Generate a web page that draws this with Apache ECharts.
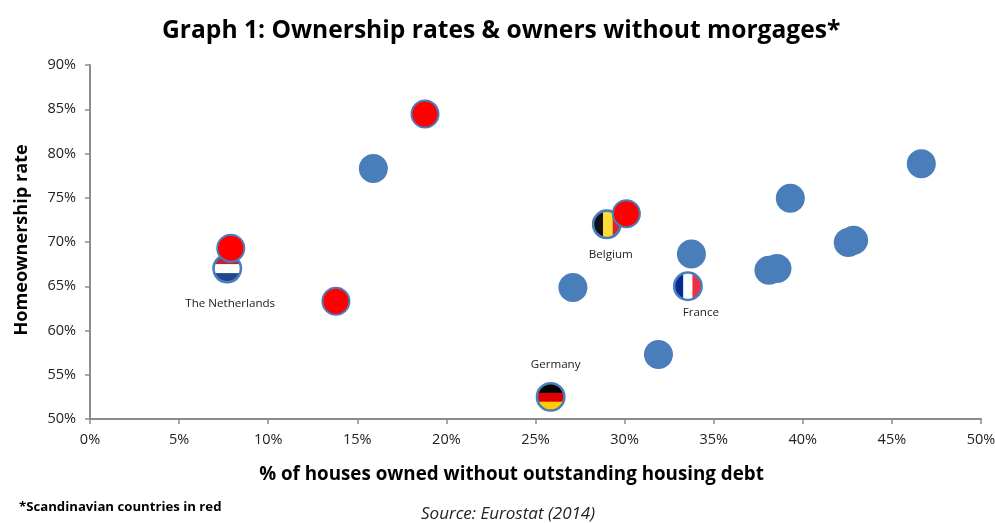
<!DOCTYPE html>
<html><head><meta charset="utf-8">
<style>html,body{margin:0;padding:0;background:#fff}#c{width:995px;height:523px}</style>
<script src="https://cdn.jsdelivr.net/npm/echarts@6/dist/echarts.min.js"></script>
</head><body><div id="c"></div>
<script>
const blueX = [15.9, 39.3, 46.65, 42.85, 42.55, 38.55, 38.1, 33.75, 27.1, 31.9];
const blueY = [78.3, 74.95, 78.85, 70.2, 69.95, 67.0, 66.8, 68.65, 64.85, 57.3];
const redX = [18.8, 7.9, 13.8, 30.1];
const redY = [84.45, 69.3, 63.3, 73.2];
const flagNames = ['The Netherlands', 'Belgium', 'France', 'Germany'];
const flagX = [7.7, 29.0, 33.55, 25.85];
const flagY = [67.0, 72.0, 65.0, 52.5];
const titleText = 'Graph 1: Ownership rates & owners without morgages*';
const xTitle = '% of houses owned without outstanding housing debt';
const yTitle = 'Homeownership rate';
const footnote = '*Scandinavian countries in red';
const sourceText = 'Source: Eurostat (2014)';

const BLUE = '#4A7EBB', AXIS = '#8C8C8C', FONT = '"Open Sans", Lato, sans-serif', DARK = '#000';
const flagStripes = {
  'The Netherlands': ['h', ['#B5283A', '#FFFFFF', '#21468B'], [0.34, 0.33, 0.33]],
  'Belgium': ['v', ['#111111', '#FBDD35', '#D8262E'], [0.36, 0.36, 0.28]],
  'France': ['v', ['#0A2A8F', '#FFFFFF', '#EE3042'], [0.33, 0.34, 0.33]],
  'Germany': ['h', ['#000000', '#DD0000', '#FFCE00'], [0.35, 0.33, 0.32]]
};
function flagUri(name) {
  const [dir, cols, w] = flagStripes[name];
  const s = 60, r = 26, c = 30;
  let pos = c - r, rects = '';
  cols.forEach((col, i) => {
    const len = w[i] * 2 * r;
    rects += dir === 'h'
      ? `<rect x="0" y="${pos}" width="${s}" height="${len + 0.5}" fill="${col}"/>`
      : `<rect x="${pos}" y="0" width="${len + 0.5}" height="${s}" fill="${col}"/>`;
    pos += len;
  });
  const svg = `<svg xmlns="http://www.w3.org/2000/svg" width="${s}" height="${s}" viewBox="0 0 ${s} ${s}"><defs><clipPath id="k"><circle cx="${c}" cy="${c}" r="${r}"/></clipPath></defs><circle cx="${c}" cy="${c}" r="${r}" fill="#fff"/><g clip-path="url(#k)">${rects}</g><circle cx="${c}" cy="${c}" r="${r + 0.5}" fill="none" stroke="${BLUE}" stroke-width="5"/></svg>`;
  return 'image://data:image/svg+xml;charset=utf-8,' + encodeURIComponent(svg);
}
const labelSpots = {
  'The Netherlands': [3, 35], 'Belgium': [4, 30], 'France': [13, 26], 'Germany': [5, -32]
};
const chart = echarts.init(document.getElementById('c'), null, {renderer: 'canvas'});
const labelStyle = m => ({color: '#222', fontFamily: FONT, fontSize: 14.5, formatter: '{value}%', margin: m});
const axisCommon = {
  axisLine: {show: true, onZero: false, lineStyle: {color: AXIS, width: 2}},
  axisTick: {show: true, length: 5, lineStyle: {color: AXIS, width: 1.5}},
  splitLine: {show: false},
  nameLocation: 'middle'
};
const nameStyle = {color: DARK, fontFamily: FONT, fontWeight: 'bold'};
chart.setOption({
  animation: false,
  backgroundColor: '#fff',
  title: {text: titleText, left: 157, top: 13,
    textStyle: {color: DARK, fontFamily: FONT, fontWeight: 'bold', fontSize: 24.6}},
  grid: {left: 90, right: 14, top: 65, bottom: 104, outerBoundsMode: 'none'},
  xAxis: Object.assign({type: 'value', min: 0, max: 50, interval: 5, name: xTitle, nameGap: 46,
    axisLabel: labelStyle(13),
    nameTextStyle: Object.assign({fontSize: 18.8, padding: [0, 48, 0, 0]}, nameStyle)}, axisCommon),
  yAxis: Object.assign({type: 'value', min: 50, max: 90, interval: 5, name: yTitle, nameGap: 59,
    axisLabel: labelStyle(14),
    nameTextStyle: Object.assign({fontSize: 18.1, padding: [0, 0, 0, 4]}, nameStyle)}, axisCommon),
  series: [
    {type: 'scatter', z: 2, symbolSize: 29, data: blueX.map((x, i) => [x, blueY[i]]),
      itemStyle: {color: BLUE, opacity: 1}},
    {type: 'scatter', z: 3, data: flagNames.map((n, i) => ({
        name: n, value: [flagX[i], flagY[i]], symbol: flagUri(n), symbolSize: 31,
        label: {show: true, formatter: n, position: 'inside', offset: labelSpots[n],
          color: '#222', fontFamily: FONT, fontSize: 11.6}
      })), itemStyle: {opacity: 1}},
    {type: 'scatter', z: 4, symbolSize: 27, data: redX.map((x, i) => [x, redY[i]]),
      itemStyle: {color: '#FF0000', borderColor: BLUE, borderWidth: 2, opacity: 1}}
  ],
  graphic: [
    {type: 'text', left: 19, top: 501, style: {text: footnote, fill: DARK, fontFamily: FONT, fontWeight: 'bold', fontSize: 13.2}},
    {type: 'text', left: 421, top: 506, style: {text: sourceText, fill: '#222', fontFamily: FONT, fontStyle: 'italic', fontSize: 17}}
  ]
});
</script></body></html>
